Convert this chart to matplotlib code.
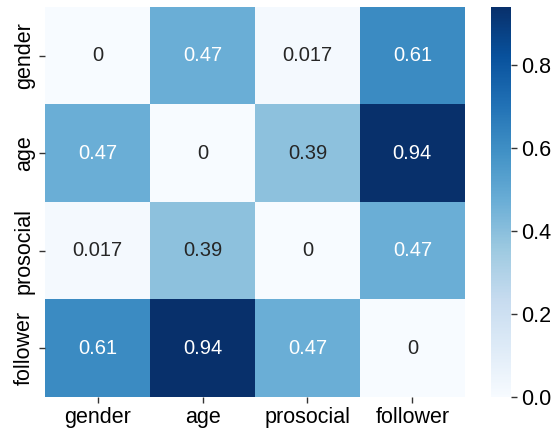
import numpy as np
import matplotlib
matplotlib.use("Agg")
import matplotlib.pyplot as plt
import seaborn as sns

labels = ["gender", "age", "prosocial", "follower"]
values = [
    [0, 0.47, 0.017, 0.61],
    [0.47, 0, 0.39, 0.94],
    [0.017, 0.39, 0, 0.47],
    [0.61, 0.94, 0.47, 0],
]

plt.rcParams["font.family"] = ["Liberation Sans", "DejaVu Sans"]
plt.rcParams["font.size"] = 15.5

fig = plt.figure(figsize=(5.58, 4.29), dpi=100)
ax = fig.add_axes([0.081, 0.075, 0.752, 0.909])
cax = fig.add_axes([0.880, 0.075, 0.036, 0.909])

sns.heatmap(np.array(values), annot=True, fmt="g", cmap="Blues",
            xticklabels=labels, yticklabels=labels, ax=ax, cbar_ax=cax,
            annot_kws={"fontsize": 14.5})

ax.tick_params(axis="both", labelsize=15.5, length=4, width=1, color="#333333")
ax.set_yticklabels(labels, rotation=90, va="center")
cax.tick_params(labelsize=15.5, length=4, width=1, color="#333333")
cax.set_yticks([0.0, 0.2, 0.4, 0.6, 0.8])
cax.set_yticklabels(["0.0", "0.2", "0.4", "0.6", "0.8"])

fig.savefig("out.png", dpi=100)
